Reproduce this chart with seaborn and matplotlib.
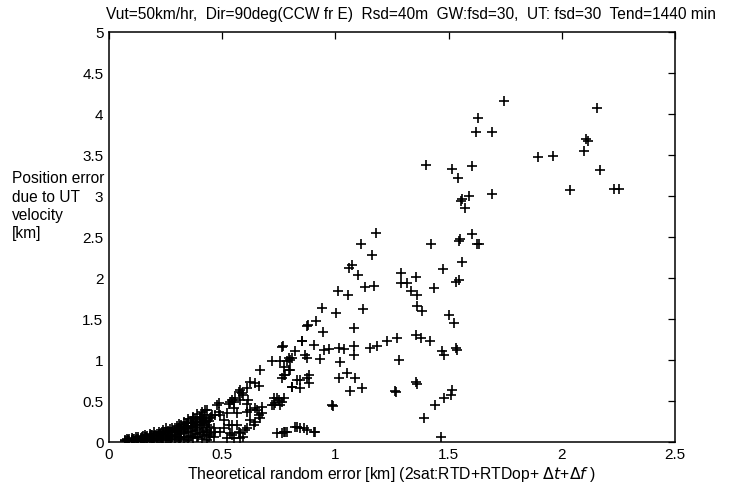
import matplotlib
matplotlib.use("Agg")
import matplotlib.pyplot as plt
import seaborn as sns
import pandas as pd

# ---- data ----
# dense low band near the origin
band_x = [0.07, 0.07, 0.08, 0.08, 0.09, 0.09, 0.10, 0.10, 0.10, 0.11, 0.11, 0.12, 0.12,
          0.13, 0.13, 0.13, 0.14, 0.14, 0.15, 0.15, 0.15, 0.16, 0.16, 0.16, 0.17, 0.17, 0.17,
          0.18, 0.18, 0.18, 0.19, 0.19, 0.19, 0.20, 0.20, 0.20, 0.21, 0.21, 0.21, 0.22, 0.22,
          0.22, 0.23, 0.23, 0.23, 0.24, 0.24, 0.24, 0.25, 0.25, 0.25, 0.25, 0.26, 0.26, 0.26,
          0.27, 0.27, 0.27, 0.28, 0.28, 0.28, 0.29, 0.29, 0.29, 0.30, 0.30, 0.30, 0.31, 0.31,
          0.31, 0.31, 0.32, 0.32, 0.32, 0.33, 0.33, 0.33, 0.33, 0.34, 0.34, 0.34, 0.35, 0.35,
          0.35, 0.35, 0.36, 0.36, 0.36, 0.37, 0.37, 0.37, 0.37, 0.38, 0.38, 0.38, 0.39, 0.39,
          0.39, 0.39, 0.40, 0.40, 0.40, 0.41, 0.41, 0.41, 0.41, 0.42, 0.42, 0.42, 0.43, 0.43,
          0.44, 0.44, 0.44, 0.45, 0.45,
          0.085, 0.105, 0.125, 0.145, 0.165, 0.185, 0.205, 0.225, 0.245, 0.265, 0.285, 0.305,
          0.325, 0.345, 0.365, 0.385, 0.405, 0.425, 0.445, 0.155, 0.195, 0.235, 0.275, 0.315,
          0.355, 0.395, 0.435]
band_y = [0.01, 0.02, 0.005, 0.025, 0.01, 0.03, 0.005, 0.02, 0.045, 0.01, 0.035, 0.015, 0.05,
          0.01, 0.03, 0.06, 0.02, 0.045, 0.01, 0.035, 0.07, 0.02, 0.05, 0.08, 0.015, 0.04, 0.07,
          0.025, 0.06, 0.09, 0.01, 0.045, 0.08, 0.03, 0.065, 0.11, 0.015, 0.05, 0.09, 0.035, 0.075,
          0.12, 0.02, 0.06, 0.10, 0.04, 0.085, 0.14, 0.015, 0.065, 0.12, 0.16, 0.04, 0.09, 0.13,
          0.02, 0.07, 0.15, 0.05, 0.11, 0.17, 0.03, 0.08, 0.14, 0.06, 0.12, 0.19, 0.02, 0.09,
          0.16, 0.21, 0.05, 0.13, 0.20, 0.03, 0.10, 0.18, 0.24, 0.06, 0.15, 0.22, 0.02, 0.11,
          0.19, 0.27, 0.07, 0.16, 0.25, 0.04, 0.13, 0.22, 0.30, 0.09, 0.18, 0.27, 0.05, 0.14,
          0.24, 0.33, 0.10, 0.20, 0.30, 0.03, 0.16, 0.26, 0.36, 0.08, 0.22, 0.32, 0.12, 0.28,
          0.05, 0.18, 0.25, 0.10, 0.30,
          0.015, 0.03, 0.035, 0.055, 0.06, 0.075, 0.085, 0.095, 0.11, 0.12, 0.13, 0.15,
          0.16, 0.17, 0.19, 0.21, 0.24, 0.25, 0.29, 0.005, 0.02, 0.03, 0.035, 0.045,
          0.05, 0.06, 0.02]

# middle cluster (0.4 - 0.95 km)
mid_x = [0.764, 0.823, 0.801, 0.720, 0.757, 0.668, 0.771, 0.801, 0.764, 0.831, 0.808, 0.646,
         0.661, 0.609, 0.572, 0.587, 0.558, 0.543, 0.616, 0.727, 0.749, 0.764, 0.727, 0.528,
         0.550, 0.565, 0.609, 0.624, 0.654, 0.661, 0.646, 0.676, 0.477, 0.484, 0.469, 0.432,
         0.521, 0.403, 0.417, 0.373, 0.388, 0.351, 0.336, 0.528, 0.565, 0.506, 0.602, 0.580,
         0.543, 0.432, 0.469, 0.462, 0.742, 0.764, 0.786, 0.831, 0.875, 0.853, 0.793, 0.875,
         0.779, 0.845, 0.875, 0.845, 0.624, 0.580, 0.594, 0.580, 0.550, 0.742, 0.735, 0.720,
         0.757, 0.484, 0.454, 0.491, 0.425, 0.410, 0.432, 0.417, 0.535, 0.609, 0.646, 0.676,
         0.668, 0.624, 0.639, 0.609, 0.572, 0.594, 0.543, 0.535, 0.506, 0.491, 0.462, 0.447,
         0.521, 0.550, 0.580, 0.823, 0.845, 0.875, 0.904, 0.912, 0.771, 0.779, 0.860]
mid_y = [1.147, 1.098, 0.995, 0.983, 0.983, 0.873, 0.914, 0.873, 0.771, 0.750, 0.670, 0.710,
         0.682, 0.649, 0.608, 0.588, 0.535, 0.506, 0.506, 0.526, 0.506, 0.486, 0.444, 0.453,
         0.404, 0.343, 0.453, 0.383, 0.383, 0.322, 0.241, 0.425, 0.444, 0.364, 0.322, 0.383,
         0.343, 0.302, 0.241, 0.282, 0.200, 0.220, 0.180, 0.200, 0.200, 0.159, 0.138, 0.098,
         0.077, 0.138, 0.119, 0.058, 0.106, 0.098, 0.119, 0.180, 1.404, 1.228, 1.016, 1.016,
         0.812, 0.750, 0.771, 0.649, 0.731, 0.628, 0.567, 0.506, 0.486, 0.526, 0.465, 0.444,
         0.444, 0.465, 0.322, 0.322, 0.383, 0.282, 0.200, 0.119, 0.486, 0.364, 0.404, 0.343,
         0.282, 0.261, 0.200, 0.159, 0.119, 0.058, 0.200, 0.098, 0.261, 0.119, 0.159, 0.077,
         0.037, 0.037, 0.037, 0.180, 0.159, 0.138, 0.119, 0.110, 0.119, 0.119, 0.159]

# upper / right scatter (0.75 - 2.3 km)
up_x = [1.181, 1.115, 1.161, 1.074, 1.059, 1.102, 1.131, 1.169, 1.010, 1.054, 0.941, 1.003,
        1.123, 0.877, 0.916, 0.946, 1.084, 0.854, 0.904, 0.769, 0.867, 0.948, 0.970, 1.015,
        1.037, 1.084, 1.084, 0.931, 1.022, 1.155, 1.185, 1.229, 1.273, 1.280, 1.354, 1.376,
        1.420, 1.472, 1.479, 1.531, 1.536, 1.288, 1.288, 1.317, 1.358, 1.332, 1.362, 1.362,
        1.384, 1.423, 1.477, 1.435, 1.546, 1.550, 1.605, 1.627, 1.561, 1.546, 1.531, 1.501,
        1.523, 1.561, 1.571, 1.553, 1.590, 0.771, 0.808, 0.882, 0.882, 0.786, 0.793, 0.771,
        0.808, 1.015, 1.052, 1.088, 1.066, 1.118, 0.988, 1.265, 1.268, 1.358, 1.360, 1.516,
        1.509, 1.479, 1.442, 1.391, 1.465, 0.985, 1.745, 1.631, 1.623, 1.693, 2.155, 2.109,
        2.114, 2.099, 1.897, 1.959, 2.169, 2.037, 2.231, 2.254, 1.516, 1.541, 1.605, 1.693,
        1.398, 1.634]
up_y = [2.537, 2.403, 2.277, 2.158, 2.118, 2.032, 1.889, 1.894, 1.840, 1.791, 1.628, 1.567,
        1.619, 1.416, 1.472, 1.334, 1.383, 1.220, 1.179, 1.159, 1.056, 1.117, 1.130, 1.138,
        1.130, 1.166, 1.056, 1.007, 0.967, 1.138, 1.159, 1.220, 1.261, 0.995, 1.301, 1.261,
        1.228, 1.098, 1.056, 1.138, 1.110, 2.056, 1.934, 1.934, 2.004, 1.832, 1.791, 1.649,
        1.588, 2.403, 2.105, 1.873, 2.444, 2.470, 2.525, 2.403, 2.191, 1.974, 1.946, 1.539,
        1.444, 2.953, 2.852, 2.934, 2.995, 0.526, 0.670, 0.812, 0.710, 0.976, 0.873, 0.812,
        1.016, 0.771, 0.832, 0.771, 0.616, 0.649, 0.437, 0.616, 0.600, 0.722, 0.700, 0.628,
        0.567, 0.526, 0.444, 0.282, 0.058, 0.444, 4.158, 3.941, 3.778, 3.770, 4.064, 3.688,
        3.668, 3.546, 3.464, 3.476, 3.313, 3.069, 3.084, 3.076, 3.321, 3.219, 3.354, 3.023,
        3.374, 2.403]

x_ticks = [0, 0.5, 1, 1.5, 2, 2.5]
x_tick_labels = ["0", "0.5", "1", "1.5", "2", "2.5"]
y_ticks = [0, 0.5, 1, 1.5, 2, 2.5, 3, 3.5, 4, 4.5, 5]
y_tick_labels = ["0", "0.5", "1", "1.5", "2", "2.5", "3", "3.5", "4", "4.5", "5"]

title_text = ("Vut=50km/hr,  Dir=90deg(CCW fr E)  Rsd=40m  GW:fsd=30,  "
              "UT: fsd=30  Tend=1440 min")
xlabel_text = r"Theoretical random error [km] (2sat:RTD+RTDop+ $\Delta t$+$\Delta f$ )"
ylabel_lines = ["Position error", "due to UT", "velocity", "[km]"]

df = pd.DataFrame({"x": band_x + mid_x + up_x, "y": band_y + mid_y + up_y})

# ---- styling ----
sns.set_theme(style="white")
plt.rcParams["font.family"] = ["Liberation Sans", "DejaVu Sans"]
plt.rcParams["mathtext.fontset"] = "dejavusans"

fig = plt.figure(figsize=(7.3, 4.89), dpi=100)
ax = fig.add_axes([109 / 730, 1 - 442.5 / 489, (675 - 109) / 730, (442.5 - 32.5) / 489])

sns.scatterplot(data=df, x="x", y="y", ax=ax, marker="+", color="black",
                s=50, linewidth=1.2, legend=False)

ax.set_xlim(0, 2.5)
ax.set_ylim(0, 5)
ax.set_xticks(x_ticks)
ax.set_xticklabels(x_tick_labels)
ax.set_yticks(y_ticks)
ax.set_yticklabels(y_tick_labels)
ax.tick_params(direction="in", length=5, width=0.9, top=True, right=True,
               labelsize=11, colors="black", pad=4)
for sp in ax.spines.values():
    sp.set_visible(True)
    sp.set_color("black")
    sp.set_linewidth(1.1)

ax.set_xlabel(xlabel_text, fontsize=11.3, labelpad=2, color="black")
ax.set_ylabel("")

fig.text(411 / 730, 1 - 14 / 489, title_text, ha="center", va="center",
         fontsize=11.2, color="black")
for line, ypx in zip(ylabel_lines, [178.5, 197, 215.5, 234]):
    fig.text(12 / 730, 1 - ypx / 489, line, ha="left", va="center",
             fontsize=11.2, color="black")

fig.savefig("out.png", dpi=100)
